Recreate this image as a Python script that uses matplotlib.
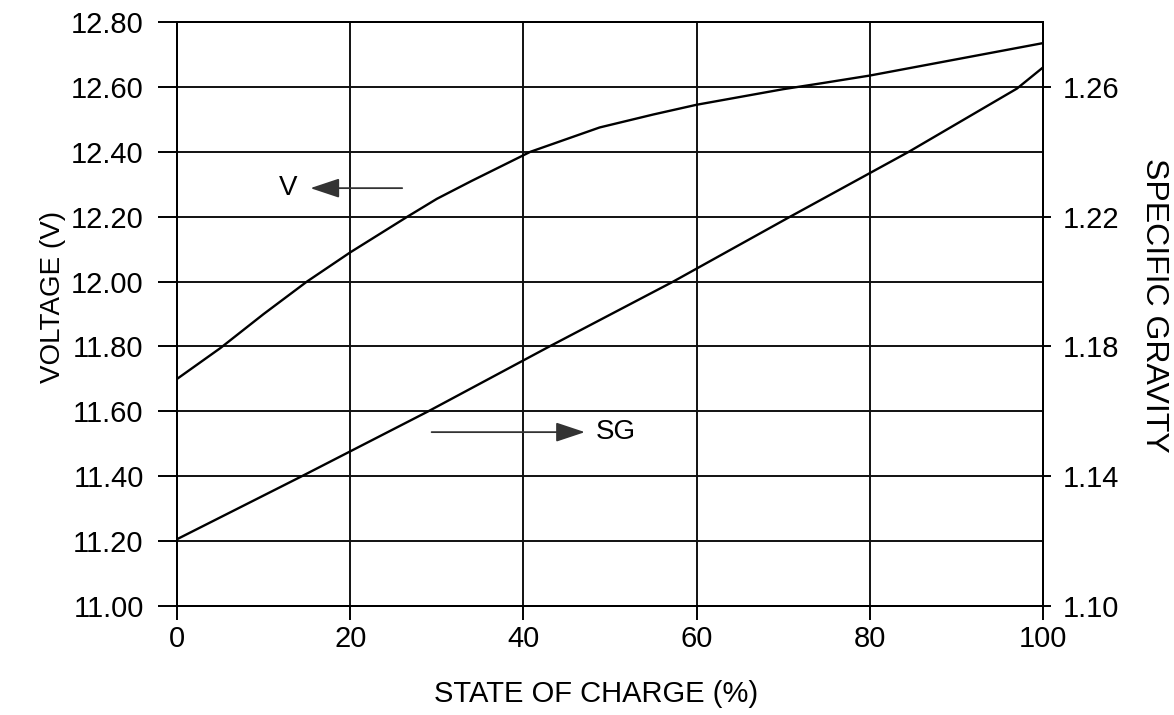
import matplotlib
matplotlib.use("Agg")
import matplotlib.pyplot as plt

plt.rcParams['font.family'] = ['Liberation Sans', 'DejaVu Sans']

# voltage curve (state of charge %, volts)
soc_v = [0, 5, 10, 15, 20, 26.6, 30, 34, 40.8, 48.8, 55, 60, 70, 74.6, 80, 90, 100]
voltage = [11.70, 11.795, 11.90, 12.00, 12.09, 12.20, 12.255, 12.31, 12.40,
           12.475, 12.515, 12.545, 12.593, 12.612, 12.635, 12.685, 12.735]

# specific gravity line
soc_sg = [0, 14.4, 29, 43, 57.3, 70.8, 84.5, 97, 100]
sg = [1.1206, 1.14, 1.16, 1.18, 1.20, 1.22, 1.24, 1.2595, 1.266]

x_ticks = [0, 20, 40, 60, 80, 100]
v_ticks = [11.00, 11.20, 11.40, 11.60, 11.80, 12.00, 12.20, 12.40, 12.60, 12.80]
sg_ticks = [1.10, 1.14, 1.18, 1.22, 1.26]

fig = plt.figure(figsize=(11.74, 7.15), dpi=100)
ax = fig.add_axes([0.1508, 0.1524, 0.7376, 0.8168])
ax2 = ax.twinx()

ax.plot(soc_v, voltage, color='black', linewidth=1.7)
ax2.plot(soc_sg, sg, color='black', linewidth=1.7)

ax.set_xlim(0, 100)
ax.set_ylim(11.0, 12.8)
ax2.set_ylim(1.10, 1.28)

ax.set_xticks(x_ticks)
ax.set_yticks(v_ticks)
ax.set_yticklabels(['%.2f' % v for v in v_ticks])
ax2.set_yticks(sg_ticks)
ax2.set_yticklabels(['%.2f' % s for s in sg_ticks])

ax.grid(True, color='#111111', linewidth=1.4)
ax.tick_params(axis='x', direction='out', length=10, width=1.4, pad=4, labelsize=21)
ax.tick_params(axis='y', direction='out', length=14, width=1.4, pad=10, labelsize=21)
ax2.tick_params(axis='y', direction='out', length=6, width=1.4, pad=8, labelsize=21)

for a in (ax, ax2):
    for s in a.spines.values():
        s.set_linewidth(1.4)

ax.set_xlabel('STATE OF CHARGE (%)', fontsize=21)
ax.xaxis.set_label_coords(0.484, -0.126)
ax.set_ylabel('VOLTAGE (V)', fontsize=20)
ax.yaxis.set_label_coords(-0.128, 0.53)
ax2.set_ylabel('SPECIFIC GRAVITY', fontsize=23, rotation=270)
ax2.yaxis.set_label_coords(1.145, 0.515)

arrow = dict(arrowstyle='-|>,head_length=0.9,head_width=0.3', color='#333333',
             linewidth=1.3, mutation_scale=20, shrinkA=0, shrinkB=0)
ax.annotate('', xy=(15.4, 12.288), xytext=(26.0, 12.288), arrowprops=arrow)
ax.text(12.8, 12.288, 'V', fontsize=20, ha='center', va='center')
ax.annotate('', xy=(47.1, 11.536), xytext=(29.4, 11.536), arrowprops=arrow)
ax.text(48.3, 11.536, 'SG', fontsize=20, ha='left', va='center')

fig.savefig('out.png', dpi=100, facecolor='white')
